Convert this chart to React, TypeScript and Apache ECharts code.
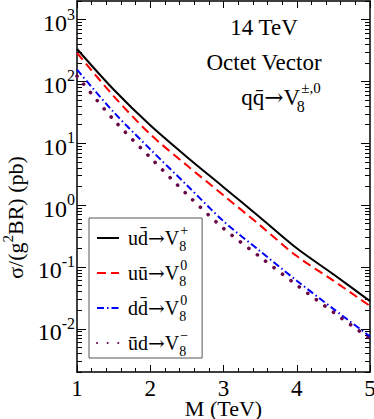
import React, { useEffect, useRef } from 'react';
import * as echarts from 'echarts';

const massTeV = [1, 1.5, 2, 2.5, 3, 3.5, 4, 4.5, 5];
const sigmaUDbar = [335, 74, 19.5, 6.0, 1.95, 0.63, 0.2, 0.076, 0.028];
const sigmaUUbar = [290, 58, 14, 4.4, 1.44, 0.47, 0.15, 0.06, 0.0234];
const sigmaDDbar = [155, 32, 8, 2.1, 0.55, 0.18, 0.06, 0.021, 0.0075];
const sigmaUbarD = [122, 24, 5.9, 1.5, 0.42, 0.145, 0.051, 0.0185, 0.0069];

const seriesNames = ['ud\u0304\u2192V8+', 'u\u016B\u2192V80', 'dd\u0304\u2192V80', '\u016Bd\u2192V8\u2212'];
const initialStates = ['ud\u0304', 'u\u016B', 'dd\u0304', '\u016Bd'];
const chargeLabels = ['+', '0', '0', '\u2212'];
const seriesColors = ['#000000', '#ff0000', '#0000ff', '#670748'];

const xMajorTicks = [1, 2, 3, 4, 5];
const yMajorTicks = [0.01, 0.1, 1, 10, 100, 1000];
const yMin = 0.002;
const yMax = 2000;

const FONT = '"Liberation Serif", "DejaVu Serif", serif';
const ARROW_FONT = '"DejaVu Serif", serif';

export default function App() {
  const ref = useRef<HTMLDivElement>(null);
  useEffect(() => {
    if (!ref.current) return;
    const chart = echarts.init(ref.current, undefined, { renderer: 'svg' });

    const yMinorTicks: number[] = [];
    for (let e = -3; e <= 3; e++) {
      for (let k = 2; k <= 9; k++) {
        const v = +(k * Math.pow(10, e)).toPrecision(3);
        if (v >= yMin && v <= yMax) yMinorTicks.push(v);
      }
    }

    const allSeries = [sigmaUDbar, sigmaUUbar, sigmaDDbar, sigmaUbarD];
    const lineStyles: any[] = [
      { color: seriesColors[0], width: 2, type: 'solid' },
      { color: seriesColors[1], width: 2, type: [9, 5] },
      { color: seriesColors[2], width: 2, type: [7, 3, 1.5, 3] },
      { color: seriesColors[3], width: 3.6, type: [0.1, 10.5], cap: 'round' },
    ];

    const axisLine = { show: true, lineStyle: { color: '#000', width: 1.5 } };

    const yBase = (pos: string, major: boolean, labels: boolean): any => ({
      type: 'log',
      logBase: 10,
      min: yMin,
      max: yMax,
      position: pos,
      axisLine: major ? axisLine : { show: false },
      splitLine: { show: false },
      axisTick: {
        show: true,
        inside: true,
        length: major ? 9 : 5,
        lineStyle: { color: '#000', width: 1 },
        customValues: major ? yMajorTicks : yMinorTicks,
      },
      axisLabel: labels
        ? {
            show: true,
            margin: 2,
            customValues: yMajorTicks,
            padding: [7, 0, 0, 0],
            formatter: (v: number) => {
              const ex = Math.round(Math.log10(v));
              return '{b|10}{s|' + (ex < 0 ? '-' + -ex : String(ex)) + '}';
            },
            rich: {
              b: { fontFamily: FONT, fontSize: 24, lineHeight: 34, color: '#000' },
              s: { fontFamily: FONT, fontSize: 16, lineHeight: 16, verticalAlign: 'top', color: '#000' },
            },
          }
        : { show: false },
    });

    const xBase = (pos: string, labels: boolean): any => ({
      type: 'value',
      min: 1,
      max: 5,
      interval: 1,
      position: pos,
      axisLine,
      splitLine: { show: false },
      axisTick: { show: true, inside: true, length: 7, lineStyle: { color: '#000', width: 1 } },
      minorTick: { show: true, splitNumber: 5, length: 4, lineStyle: { color: '#000', width: 1 } },
      axisLabel: labels
        ? {
            show: true,
            margin: 7,
            fontFamily: FONT,
            fontSize: 23,
            lineHeight: 18,
            color: '#000',
            customValues: xMajorTicks,
            formatter: (v: number) => String(v),
          }
        : { show: false },
    });

    const yAxes = [yBase('left', true, true), yBase('left', false, false), yBase('right', true, false), yBase('right', false, false)];
    yAxes[0].name = '{n|\u03C3/(g}{s|2}{n|BR) (pb)}';
    yAxes[0].nameLocation = 'middle';
    yAxes[0].nameGap = 44;
    yAxes[0].nameTextStyle = {
      padding: [0, 62, 0, 0],
      rich: {
        n: { fontFamily: FONT, fontSize: 22, lineHeight: 30, color: '#000' },
        s: { fontFamily: FONT, fontSize: 15, lineHeight: 15, verticalAlign: 'top', color: '#000' },
      },
    };

    const xAxes = [xBase('bottom', true), xBase('top', false)];
    xAxes[0].name = 'M (TeV)';
    xAxes[0].nameLocation = 'middle';
    xAxes[0].nameGap = 25;
    xAxes[0].nameMoveOverlap = false;
    xAxes[0].nameTextStyle = { fontFamily: FONT, fontSize: 22, lineHeight: 22, color: '#000', verticalAlign: 'top' };

    const legendRich: any = {
      m: { fontFamily: FONT, fontSize: 20, lineHeight: 30, color: '#000' },
      a: { fontFamily: ARROW_FONT, fontSize: 20, lineHeight: 30, color: '#000' },
      sb: { fontFamily: FONT, fontSize: 14, lineHeight: 16, verticalAlign: 'bottom', width: 1, color: '#000' },
      sp: { fontFamily: FONT, fontSize: 14, lineHeight: 16, verticalAlign: 'top', color: '#000' },
    };

    chart.setOption({
      animation: false,
      backgroundColor: '#fff',
      grid: { left: 77, right: 4, top: 1, bottom: 47, containLabel: false, outerBoundsMode: 'none' },
      xAxis: xAxes,
      yAxis: yAxes,
      legend: {
        orient: 'vertical',
        left: 89,
        top: 218,
        padding: [5, 14, 0, 7],
        itemWidth: 22,
        itemHeight: 14,
        itemGap: 5,
        borderColor: '#555',
        borderWidth: 1,
        backgroundColor: '#fff',
        itemStyle: { opacity: 0 },
        data: seriesNames,
        formatter: (name: string) => {
          const i = seriesNames.indexOf(name);
          return '{m|' + initialStates[i] + '}{a|\u2192}{m|V}{sb|8}{sp|' + chargeLabels[i] + '}';
        },
        textStyle: { fontFamily: FONT, fontSize: 20, color: '#000', padding: [0, 0, 0, 4], rich: legendRich },
      },
      graphic: [
        { type: 'text', x: 264, y: 27, style: { text: '14 TeV', fontFamily: FONT, fontSize: 23, fill: '#000', align: 'center', verticalAlign: 'middle' } },
        { type: 'text', x: 264, y: 62, style: { text: 'Octet Vector', fontFamily: FONT, fontSize: 23, fill: '#000', align: 'center', verticalAlign: 'middle' } },
        {
          type: 'text',
          x: 281,
          y: 97,
          style: {
            text: '{m|qq\u0304}{a|\u2192}{m|V}{sb|8}{sp|\u00B1,0}',
            align: 'center',
            verticalAlign: 'middle',
            rich: {
              m: { fontFamily: FONT, fontSize: 23, lineHeight: 34, fill: '#000' },
              a: { fontFamily: ARROW_FONT, fontSize: 23, lineHeight: 34, fill: '#000' },
              sb: { fontFamily: FONT, fontSize: 16, lineHeight: 17, verticalAlign: 'bottom', width: 1, fill: '#000' },
              sp: { fontFamily: FONT, fontSize: 15, lineHeight: 17, verticalAlign: 'top', fill: '#000' },
            },
          },
        },
      ],
      series: allSeries.map((vals, i) => ({
        name: seriesNames[i],
        type: 'line',
        xAxisIndex: 0,
        yAxisIndex: 0,
        data: massTeV.map((m, j) => [m, vals[j]]),
        showSymbol: false,
        symbol: 'none',
        smooth: 0.3,
        color: seriesColors[i],
        lineStyle: lineStyles[i],
        z: 5 - i,
      })),
    });
    return () => chart.dispose();
  }, []);
  return <div ref={ref} style={{ position: 'fixed', left: 0, top: 0, width: 374, height: 419 }} />;
}
